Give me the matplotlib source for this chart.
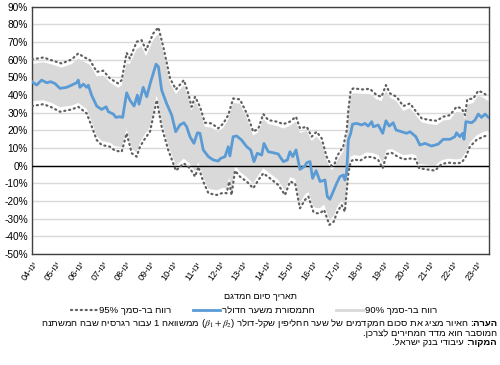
import numpy as np
import matplotlib.pyplot as plt
from matplotlib.lines import Line2D

plt.rcParams['font.family'] = ['Liberation Sans', 'DejaVu Sans']
plt.rcParams['mathtext.fontset'] = 'stix'


def rtl(s):
    # matplotlib has no bidi support, so hebrew goes in visual order
    return s[::-1]


# point estimate (blue line), decimal years
est_t = [2004.00, 2004.20, 2004.41, 2004.63, 2004.80, 2004.98, 2005.20, 2005.48, 2005.70, 2005.91,
         2005.98, 2006.05, 2006.20, 2006.34, 2006.41, 2006.55, 2006.77, 2006.98, 2007.17, 2007.27,
         2007.48, 2007.59, 2007.74, 2007.88, 2008.05, 2008.19, 2008.37, 2008.51, 2008.58, 2008.76,
         2008.91, 2009.08, 2009.31, 2009.41, 2009.55, 2009.76, 2009.98, 2010.15, 2010.33, 2010.50,
         2010.62, 2010.76, 2010.93, 2011.08, 2011.19, 2011.33, 2011.55, 2011.76, 2011.97, 2012.07,
         2012.26, 2012.40, 2012.47, 2012.61, 2012.76, 2012.97, 2013.19, 2013.36, 2013.50, 2013.64,
         2013.83, 2013.93, 2014.11, 2014.33, 2014.54, 2014.61, 2014.76, 2014.93, 2015.04, 2015.16,
         2015.30, 2015.47, 2015.68, 2015.76, 2015.90, 2016.01, 2016.16, 2016.33, 2016.54, 2016.64,
         2016.75, 2016.89, 2017.04, 2017.18, 2017.32, 2017.39, 2017.47, 2017.54, 2017.64, 2017.72,
         2017.90, 2018.11, 2018.25, 2018.39, 2018.54, 2018.61, 2018.82, 2019.01, 2019.15, 2019.29,
         2019.46, 2019.58, 2019.82, 2020.03, 2020.18, 2020.43, 2020.60, 2020.82, 2021.10, 2021.39,
         2021.60, 2021.89, 2022.10, 2022.17, 2022.31, 2022.43, 2022.49, 2022.57, 2022.82, 2022.96,
         2023.10, 2023.24, 2023.39, 2023.54]
est = [47.5, 45.6, 48.4, 46.9, 47.5, 46.5, 43.7, 44.3, 45.6, 46.9,
       48.4, 44.3, 46.1, 44.3, 45.5, 39.9, 33.7, 31.8, 33.3, 30.5,
       29.2, 27.3, 27.7, 27.3, 41.2, 37.1, 33.7, 39.9, 34.8, 44.3,
       39.0, 47.5, 57.4, 56.0, 42.7, 35.2, 28.6, 19.2, 23.0, 24.3,
       22.0, 16.4, 12.6, 18.6, 18.3, 8.9, 5.1, 3.2, 2.6, 4.1,
       5.1, 10.7, 5.5, 16.4, 16.8, 14.5, 10.7, 8.9, 2.3, 7.0,
       6.0, 12.6, 7.9, 7.3, 6.6, 5.1, 2.3, 3.2, 7.9, 5.1,
       8.9, -2.1, -0.2, 1.7, 2.3, -7.2, -2.8, -9.0, -8.1, -17.5,
       -19.0, -14.7, -10.0, -6.2, -5.3, -8.1, -3.4, 14.5, 18.3, 23.5,
       23.9, 23.0, 23.9, 22.4, 24.9, 22.0, 23.0, 18.3, 25.4, 22.4,
       24.3, 20.2, 19.2, 18.3, 19.2, 16.4, 11.7, 12.6, 11.1, 12.2,
       14.9, 14.9, 16.4, 18.6, 16.4, 18.3, 14.9, 24.9, 24.3, 25.8,
       29.2, 27.3, 29.2, 27.3]

# upper bounds: 95% (dotted) and 90% (gray band)
up_t = [2004.00, 2004.49, 2004.91, 2005.27, 2005.70, 2005.98, 2006.20, 2006.48, 2006.77, 2007.05,
        2007.34, 2007.69, 2007.84, 2008.05, 2008.19, 2008.48, 2008.69, 2008.88, 2009.19, 2009.41,
        2009.62, 2009.91, 2010.16, 2010.50, 2010.69, 2010.83, 2010.98, 2011.19, 2011.40, 2011.69,
        2011.97, 2012.19, 2012.40, 2012.61, 2012.90, 2013.19, 2013.47, 2013.69, 2013.90, 2014.11,
        2014.47, 2014.76, 2015.04, 2015.30, 2015.47, 2015.76, 2015.97, 2016.18, 2016.40, 2016.61,
        2016.82, 2016.96, 2017.04, 2017.32, 2017.47, 2017.54, 2017.64, 2017.75, 2018.18, 2018.46,
        2018.75, 2018.96, 2019.15, 2019.32, 2019.60, 2019.89, 2020.18, 2020.39, 2020.68, 2021.03,
        2021.32, 2021.60, 2021.89, 2022.17, 2022.39, 2022.53, 2022.63, 2022.89, 2023.10, 2023.31,
        2023.54]
up95 = [60.1, 61.2, 59.3, 57.8, 60.1, 63.5, 61.6, 59.7, 53.1, 53.7,
        49.3, 46.5, 48.4, 63.8, 60.6, 70.1, 71.0, 65.3, 74.8, 78.2,
        67.2, 49.3, 43.1, 48.4, 40.9, 33.3, 39.0, 33.3, 24.3, 23.9,
        21.1, 23.9, 28.6, 38.0, 37.5, 29.6, 19.2, 21.1, 29.2, 25.8,
        24.9, 23.5, 24.9, 27.7, 21.1, 22.0, 16.4, 19.2, 15.4, 5.1,
        -0.2, 1.3, 5.1, 10.7, 20.0, 31.4, 42.7, 43.7, 43.1, 43.5,
        39.9, 39.0, 45.6, 40.9, 39.0, 33.7, 35.2, 31.4, 26.7, 25.8,
        25.4, 27.7, 28.6, 33.3, 32.4, 28.6, 37.5, 38.0, 42.4, 41.2,
        39.0]
up90 = [57.5, 58.5, 57.0, 55.5, 57.5, 60.5, 59.0, 57.0, 50.5, 51.0,
        47.0, 44.0, 45.5, 58.0, 57.5, 66.0, 67.5, 62.0, 71.0, 74.5,
        64.0, 46.5, 40.5, 45.5, 38.5, 31.0, 36.5, 31.0, 22.0, 21.5,
        19.0, 21.5, 26.0, 35.5, 35.0, 27.0, 17.0, 19.0, 26.5, 23.5,
        22.5, 21.0, 22.5, 25.0, 18.5, 19.5, 14.0, 16.5, 13.0, 3.0,
        -2.5, -1.0, 2.5, 8.0, 16.0, 28.0, 39.5, 41.0, 40.5, 40.5,
        37.5, 36.5, 42.5, 38.5, 36.5, 31.0, 32.5, 29.0, 24.5, 23.5,
        23.0, 25.5, 26.0, 30.5, 30.0, 26.5, 34.5, 35.5, 39.5, 38.5,
        36.5]

# lower bounds: 95% (dotted) and 90% (gray band)
lo_t = [2004.00, 2004.49, 2004.84, 2005.20, 2005.70, 2005.98, 2006.34, 2006.55, 2006.77, 2006.98,
        2007.34, 2007.55, 2007.84, 2008.05, 2008.27, 2008.48, 2008.62, 2008.84, 2009.05, 2009.34,
        2009.55, 2009.83, 2010.16, 2010.50, 2010.76, 2010.98, 2011.12, 2011.33, 2011.55, 2011.90,
        2012.19, 2012.33, 2012.44, 2012.54, 2012.69, 2012.90, 2013.19, 2013.47, 2013.69, 2013.90,
        2014.19, 2014.54, 2014.83, 2015.04, 2015.26, 2015.47, 2015.68, 2015.83, 2016.04, 2016.18,
        2016.33, 2016.50, 2016.73, 2016.92, 2017.04, 2017.25, 2017.39, 2017.54, 2017.64, 2017.78,
        2018.04, 2018.32, 2018.61, 2018.82, 2019.01, 2019.18, 2019.39, 2019.60, 2019.89, 2020.25,
        2020.43, 2020.57, 2020.89, 2021.25, 2021.53, 2021.81, 2022.17, 2022.39, 2022.57, 2022.74,
        2023.02, 2023.31, 2023.54]
lo95 = [33.7, 34.8, 33.0, 30.5, 31.8, 33.3, 29.6, 22.4, 14.5, 11.7,
        10.7, 8.5, 7.9, 18.3, 7.0, 5.1, 10.7, 15.4, 19.2, 37.1,
        22.0, 8.9, -2.8, 1.3, -1.5, -6.2, -0.6, -9.0, -15.6, -16.6,
        -15.3, -15.6, -9.0, -16.6, -2.8, -6.2, -9.0, -12.8, -8.1, -4.3,
        -7.2, -10.9, -16.6, -9.0, -10.0, -24.1, -19.4, -17.5, -26.0, -26.9,
        -26.9, -25.0, -33.5, -31.6, -26.9, -22.2, -26.0, -4.3, 2.3, 3.6,
        2.8, 5.1, 4.7, 3.2, -1.5, 6.6, 7.3, 5.5, 3.6, 4.1,
        3.6, -1.5, -2.1, -2.8, 0.9, 1.7, 1.3, 1.7, 5.1, 10.7,
        14.5, 16.4, 17.3]
lo90 = [36.5, 37.0, 35.5, 33.0, 34.0, 35.5, 32.0, 25.0, 17.0, 14.0,
        13.0, 11.0, 10.5, 21.0, 9.5, 7.5, 13.0, 18.0, 22.0, 40.0,
        25.0, 11.5, 0.0, 4.0, 1.0, -3.5, 2.0, -6.5, -13.0, -14.0,
        -12.5, -13.0, -6.5, -14.0, 0.0, -3.5, -6.5, -10.0, -5.5, -1.5,
        -4.5, -8.0, -14.0, -6.5, -7.5, -21.0, -16.5, -15.0, -23.0, -24.0,
        -24.0, -22.0, -30.5, -28.5, -24.0, -19.5, -23.0, -1.5, 5.0, 6.0,
        5.5, 7.5, 7.0, 6.0, 1.5, 9.0, 9.5, 8.0, 6.0, 6.5,
        6.0, 1.0, 0.5, 0.0, 3.0, 4.0, 3.5, 4.0, 7.5, 13.0,
        17.0, 19.0, 20.0]

years = list(range(2004, 2024))
xlabels = [f"{y % 100:02d}-" + rtl("ינו") for y in years]
yticks = list(range(-50, 100, 10))
ylabels = [f"{v}%" for v in yticks]

lab90 = "90% " + rtl("רווח בר-סמך")
lab95 = "95% " + rtl("רווח בר-סמך")
lab_est = rtl("התמסורת משער הדולר")
xtitle = rtl("תאריך סיום המדגם")

fig = plt.figure(figsize=(5, 3.65), dpi=100)
ax = fig.add_axes([0.064, 0.304, 0.914, 0.678])

# gray 90% band
ax.fill(np.r_[up_t, lo_t[::-1]], np.r_[up90, lo90[::-1]], color='#D9D9D9', lw=0, zorder=2)
ax.axhline(0, color='black', lw=1, zorder=3)
dots = dict(color='#606060', lw=1.6, linestyle=(0, (0.5, 1.7)), dash_capstyle='round', zorder=4)
ax.plot(up_t, up95, **dots)
ax.plot(lo_t, lo95, **dots)
ax.plot(est_t, est, color='#5B9BD5', lw=2, zorder=5)

ax.set_xlim(2004, 2023.56)
ax.set_ylim(-50, 90)
ax.set_yticks(yticks)
ax.set_yticklabels(ylabels, fontsize=7.3)
ax.set_xticks(years)
ax.set_xticklabels(xlabels, fontsize=6.6, rotation=55, ha='right', va='top', rotation_mode='anchor')
ax.tick_params(length=0)
ax.tick_params(axis='y', pad=3)
ax.tick_params(axis='x', pad=4)
ax.grid(axis='y', color='#D9D9D9', lw=1, zorder=0)
ax.set_axisbelow(True)
for s in ax.spines.values():
    s.set_color('#404040')
    s.set_linewidth(1)

fig.text(0.52, 0.189, xtitle, ha='center', va='center', fontsize=6.6)

handles = [Line2D([], [], **dots),
           Line2D([], [], color='#5B9BD5', lw=2),
           Line2D([], [], color='#D9D9D9', lw=2)]
fig.legend(handles, [lab95, lab_est, lab90], loc='center', bbox_to_anchor=(0.508, 0.148),
           ncol=3, frameon=False, fontsize=6.8, handlelength=2.8, handletextpad=0.25,
           columnspacing=2.3, borderpad=0.1)

# notes under the chart
fs = 6.8
b1 = fig.text(0.994, 0.114, rtl("הערה:"), ha='right', va='center', fontsize=fs, weight='bold')
note1 = (rtl("ממשוואה 1 עבור רגרסיה שבה המשתנה") + r" ($\beta_1+\beta_2$) "
         + rtl("האיור מציג את סכום המקדמים של שער החליפין שקל-דולר") + " ")
ax.annotate(note1, xy=(0, 0.5), xycoords=b1, ha='right', va='center', fontsize=fs,
            annotation_clip=False)
fig.text(0.994, 0.086, rtl("המוסבר הוא מדד המחירים לצרכן."), ha='right', va='center', fontsize=fs)
b3 = fig.text(0.994, 0.061, rtl("המקור:"), ha='right', va='center', fontsize=fs, weight='bold')
ax.annotate(rtl(" עיבודי בנק ישראל."), xy=(0, 0.5), xycoords=b3, ha='right', va='center',
            fontsize=fs, annotation_clip=False)

fig.savefig('out.png', dpi=100)
